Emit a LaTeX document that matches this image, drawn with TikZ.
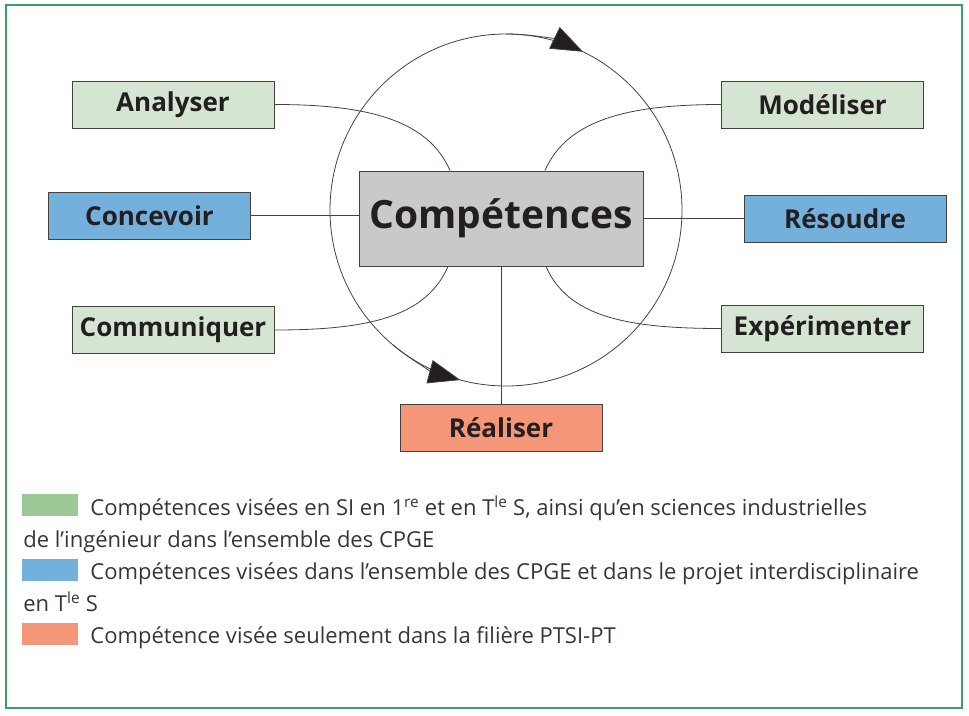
\documentclass[tikz,border=0pt]{standalone}
\usepackage{fontspec}
\setmainfont{Open Sans}
\usepackage{tikz}
\usetikzlibrary{positioning,calc,arrows.meta}
\definecolor{vertclair}{RGB}{212,230,210}
\definecolor{vertlegende}{RGB}{155,200,150}
\definecolor{bleucpge}{RGB}{116,176,220}
\definecolor{orangepsi}{RGB}{244,150,120}
\definecolor{griscomp}{RGB}{200,201,203}
\definecolor{cadre}{RGB}{60,160,100}
\definecolor{encre}{RGB}{35,31,32}

\begin{document}
\begin{tikzpicture}[x=1pt, y=-1pt, line width=0.8pt, draw=encre!85,
    competence/.style={draw=encre!85, line width=1pt, minimum width=202pt, minimum height=47pt,
        inner sep=0pt, text=encre, font=\fontsize{26}{26}\selectfont\bfseries},
    vert/.style={competence, fill=vertclair},
    bleu/.style={competence, fill=bleucpge},
    orange/.style={competence, fill=orangepsi},
    centre/.style={competence, fill=griscomp, minimum width=284pt, minimum height=95pt,
        font=\fontsize{39}{39}\selectfont\bfseries},
    pastille/.style={minimum width=56pt, minimum height=22pt, inner sep=0pt, anchor=north west},
    legende/.style={anchor=base west, inner sep=0pt, text=encre!90, font=\fontsize{22}{22}\selectfont},
    fleche/.style={-{Triangle[length=32pt, width=24pt, fill=encre]}}]
    \useasboundingbox (0,0) rectangle (969,715);
    \draw[cadre, line width=1.2pt] (6,5) rectangle (962,708);

    \coordinate (O) at (506,210);
    \draw (O) circle[radius=176];
    \draw[fleche] (O) ++(-90:176) arc[start angle=-90, end angle=-64, radius=176];
    \draw[fleche] (O) ++(130:176) arc[start angle=130, end angle=105, radius=176];

    \node[centre] (C) at (501,218.5) {Compétences};
    \node[vert] (A) at (173,104.5) {Analyser};
    \node[bleu] (Co) at (149.5,215.5) {Concevoir};
    \node[vert] (Cm) at (173,330) {Communiquer};
    \node[vert] (M) at (822.5,104.5) {Modéliser};
    \node[bleu] (R) at (845,219) {Résoudre};
    \node[vert] (E) at (822.5,328.5) {Expérimenter};
    \node[orange] (Re) at (501,427.5) {Réaliser};

    \draw (A.east) .. controls +(95,0) and +(-22,-50) .. ($(C.north)+(-51,0)$);
    \draw (M.west) .. controls +(-95,0) and +(22,-50) .. ($(C.north)+(44,0)$);
    \draw (Cm.east) .. controls +(95,0) and +(-22,50) .. ($(C.south)+(-53,0)$);
    \draw (E.west) .. controls +(-95,0) and +(22,50) .. ($(C.south)+(45,0)$);
    \draw (Co.east) -- (Co.east -| C.west);
    \draw (C.east) -- (C.east -| R.west);
    \draw (C.south) -- (Re.north);

    \node[pastille, fill=vertlegende] (p1) at (22,494) {};
    \node[pastille, fill=bleucpge] (p2) at (22,559) {};
    \node[pastille, fill=orangepsi] (p3) at (22,623) {};
    \node[legende] (l1) at (90,515) {Compétences visées en SI en 1\textsuperscript{re} et en T\textsuperscript{le} S, ainsi qu’en sciences industrielles};
    \node[legende] (l2) at (23,547) {de l’ingénieur dans l’ensemble des CPGE};
    \node[legende] (l3) at (90,579) {Compétences visées dans l’ensemble des CPGE et dans le projet interdisciplinaire};
    \node[legende] (l4) at (23,611) {en T\textsuperscript{le} S};
    \node[legende] (l5) at (90,643) {Compétence visée seulement dans la filière PTSI-PT};
\end{tikzpicture}
\end{document}
